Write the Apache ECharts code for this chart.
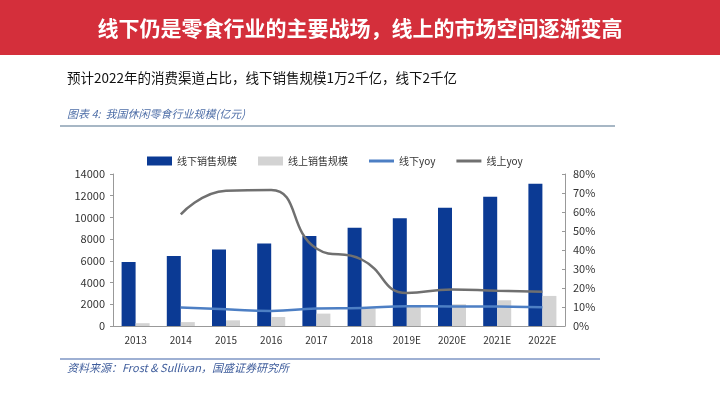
<!DOCTYPE html>
<html><head><meta charset="utf-8">
<script src="https://cdn.jsdelivr.net/npm/echarts@6/dist/echarts.min.js"></script>
<style>html,body{margin:0;padding:0;background:#fff}#c{width:720px;height:405px}</style>
</head><body><div id="c"></div>
<script>
var categories = ['2013','2014','2015','2016','2017','2018','2019E','2020E','2021E','2022E'];
var offlineSales = [5900, 6450, 7050, 7600, 8280, 9050, 9920, 10900, 11910, 13100];
var onlineSales = [260, 360, 520, 830, 1140, 1600, 1850, 2000, 2370, 2770];
var offlineYoy = [null, 9.7, 8.8, 7.9, 9.2, 9.5, 10.4, 10.3, 10.2, 9.9];
var onlineYoy = [null, 58.8, 71.2, 71.6, 40.8, 35, 17.4, 19.2, 18.5, 18];
var leftTicks = {min: 0, max: 14000, interval: 2000};
var rightTicks = {min: 0, max: 80, interval: 10};

var chart = echarts.init(document.getElementById('c'));
var F = '"Noto Sans CJK SC", "Noto Sans", sans-serif';
var lineIcon = 'path://M0,0 L25,0 L25,3 L0,3 Z';
chart.setOption({
  animation: false,
  textStyle: {fontFamily: F},
  graphic: [
    {type: 'rect', shape: {x: 0, y: 0, width: 720, height: 55}, style: {fill: '#d42f3b'}},
    {type: 'text', x: 360, y: 28, style: {text: '线下仍是零食行业的主要战场，线上的市场空间逐渐变高', fill: '#fff', font: 'bold 21px ' + F, textAlign: 'center', textVerticalAlign: 'middle'}},
    {type: 'text', x: 67, y: 78, style: {text: '预计2022年的消费渠道占比，线下销售规模1万2千亿，线下2千亿', fill: '#111', font: '13.5px ' + F, textVerticalAlign: 'middle'}},
    {type: 'text', x: 67, y: 114, style: {text: '图表 4:  我国休闲零食行业规模(亿元)', fill: '#4f6fa8', font: 'italic 11px ' + F, textVerticalAlign: 'middle'}},
    {type: 'line', shape: {x1: 60, y1: 126, x2: 615, y2: 126}, style: {stroke: '#8a9fb2', lineWidth: 1.5}},
    {type: 'line', shape: {x1: 60, y1: 359, x2: 600, y2: 359}, style: {stroke: '#3f62a8', lineWidth: 1.2}},
    {type: 'text', x: 67, y: 368, style: {text: '资料来源：Frost & Sullivan，国盛证券研究所', fill: '#3f5d9c', font: 'italic 11px ' + F, textVerticalAlign: 'middle'}}
  ],
  legend: {
    top: 151, left: 142, itemWidth: 25, itemHeight: 9, itemGap: 21,
    textStyle: {fontSize: 10, color: '#333'},
    data: [
      {name: '线下销售规模', icon: 'rect'},
      {name: '线上销售规模', icon: 'rect'},
      {name: '线下yoy', icon: lineIcon, itemStyle: {color: '#4d7fc4'}},
      {name: '线上yoy', icon: lineIcon, itemStyle: {color: '#707070'}}
    ]
  },
  grid: {left: 113, right: 155, top: 174, bottom: 79},
  xAxis: {
    type: 'category', data: categories,
    axisLine: {lineStyle: {color: '#999'}},
    axisTick: {show: false},
    axisLabel: {color: '#333', fontSize: 10, margin: 9}
  },
  yAxis: [
    {type: 'value', min: leftTicks.min, max: leftTicks.max, interval: leftTicks.interval,
     axisLine: {show: true, lineStyle: {color: '#999'}}, axisTick: {show: true, inside: false, length: 3},
     splitLine: {show: false}, axisLabel: {color: '#333', fontSize: 11, margin: 8, formatter: function (v) { return String(v); }}},
    {type: 'value', min: rightTicks.min, max: rightTicks.max, interval: rightTicks.interval, position: 'right',
     axisLine: {show: true, lineStyle: {color: '#999'}}, axisTick: {show: true, inside: true, length: 3},
     splitLine: {show: false}, axisLabel: {color: '#333', fontSize: 11, margin: 8, formatter: '{value}%'}}
  ],
  series: [
    {name: '线下销售规模', type: 'bar', data: offlineSales, barWidth: 14, barGap: '0%', itemStyle: {color: '#0b3a94'}},
    {name: '线上销售规模', type: 'bar', data: onlineSales, barWidth: 14, itemStyle: {color: '#d3d3d3'}},
    {name: '线下yoy', type: 'line', yAxisIndex: 1, data: offlineYoy, smooth: 0.5, symbol: 'none', lineStyle: {color: '#4d7fc4', width: 2.5}, itemStyle: {color: '#4d7fc4'}},
    {name: '线上yoy', type: 'line', yAxisIndex: 1, data: onlineYoy, smooth: 0.5, symbol: 'none', lineStyle: {color: '#707070', width: 2.5}, itemStyle: {color: '#707070'}}
  ]
});
</script></body></html>
